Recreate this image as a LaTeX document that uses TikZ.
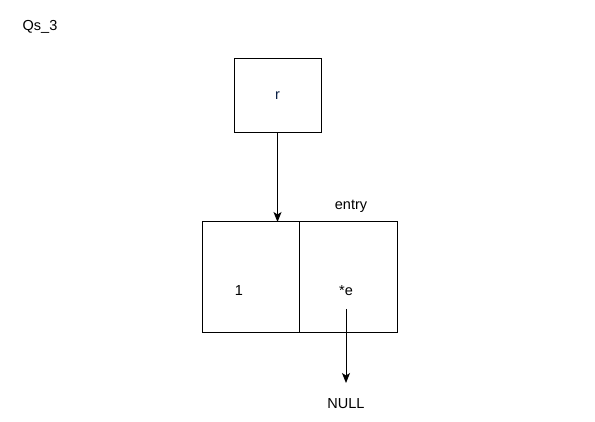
\documentclass[tikz,border=0pt]{standalone}
\usepackage{fontspec}
\setmainfont{Liberation Sans}
\usetikzlibrary{arrows.meta}
\definecolor{navy}{HTML}{0A1F44}
\begin{document}
\begin{tikzpicture}[x=1pt,y=-1pt,
  lbl/.style={font=\fontsize{14.5}{16}\selectfont,inner sep=0pt},
  arr/.style={line width=1pt,-{Stealth[length=10pt,width=8pt,inset=2.5pt]}}]
\useasboundingbox[fill=white] (0,0) rectangle (595,422);
\node[lbl,anchor=center] (title) at (40,27) {Qs\_3};
\draw[line width=1pt] (234,59) rectangle (321,133);
\node[lbl,text=navy] (r) at (277.5,96) {r};
\coordinate (rb) at (277.5,133);
\draw[line width=1pt] (202,222) rectangle (397,333);
\draw[line width=1pt] (299.5,222) -- (299.5,333);
\coordinate (et) at (277.5,222);
\node[lbl] (entry) at (351,206) {entry};
\node[lbl] (one) at (239,291) {1};
\node[lbl] (e) at (346,291) {*e};
\coordinate (es) at (346,309);
\node[lbl] (null) at (346,404) {NULL};
\draw[arr] (rb) -- (et);
\draw[arr] (es) -- (346,383);
\end{tikzpicture}
\end{document}
